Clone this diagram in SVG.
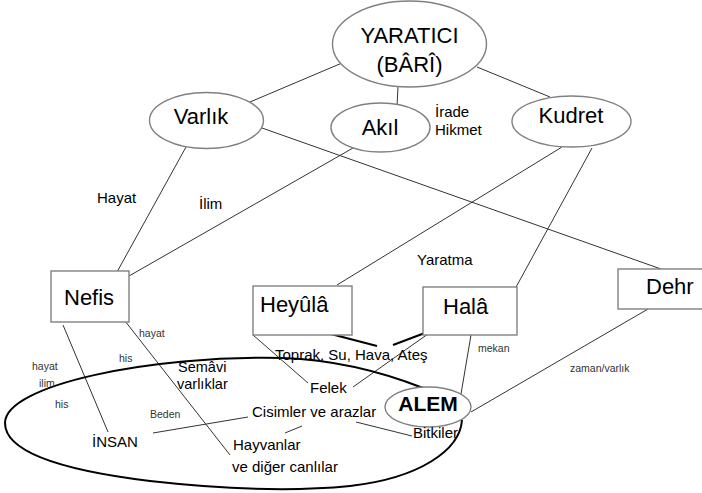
<svg xmlns="http://www.w3.org/2000/svg" width="702" height="493" viewBox="0 0 702 493">
<style>
.bg{fill:#fff}
.nb{fill:#fff;stroke:#808080;stroke-width:1.4}
.ln{fill:none;stroke:#333;stroke-width:1}
.tk{fill:none;stroke:#000;stroke-width:2}
.nt{font-family:"Liberation Sans",Arial,sans-serif;font-size:22px;fill:#000}
.lb{font-family:"Liberation Sans",Arial,sans-serif;font-size:15px;fill:#000}
.sm{font-family:"Liberation Sans",Arial,sans-serif;font-size:10.5px;fill:#333}
</style>
<rect class="bg" x="0" y="0" width="702" height="493"/>
<g id="connectors">
<line class="ln" x1="250" y1="102" x2="342" y2="63"/>
<line class="ln" x1="398" y1="87" x2="397" y2="106"/>
<line class="ln" x1="477" y1="67" x2="550" y2="97"/>
<line class="ln" x1="186" y1="147" x2="117" y2="272"/>
<line class="ln" x1="353" y1="148" x2="129" y2="276"/>
<line class="ln" x1="262" y1="128" x2="661" y2="269"/>
<line class="ln" x1="562" y1="147" x2="337" y2="285"/>
<line class="ln" x1="592" y1="148" x2="515" y2="289"/>
<line class="ln" x1="63" y1="325" x2="108" y2="432"/>
<line class="ln" x1="125" y1="321" x2="230" y2="455"/>
<line class="ln" x1="153" y1="433" x2="248" y2="417"/>
<line class="ln" x1="285" y1="433" x2="302" y2="426"/>
<line class="ln" x1="253" y1="335" x2="308" y2="383"/>
<line class="ln" x1="435" y1="329" x2="353" y2="387"/>
<line class="ln" x1="471" y1="335" x2="461" y2="394"/>
<line class="ln" x1="648" y1="309" x2="471" y2="412"/>
<line class="ln" x1="356" y1="422" x2="412" y2="436"/>
<line class="tk" x1="327" y1="333" x2="377" y2="346"/>
<line class="tk" x1="393" y1="345" x2="438" y2="328"/>
</g>
<g id="alem-world">
<path class="tk" d="M 423,388 C 390,375 340,360 283,358 C 150,355 5,385 5,423 C 5,452 60,470 150,481 C 230,490 300,491 350,486 C 420,478 460,450 462,420"/>
</g>
<g id="yaratici">
<ellipse class="nb" cx="409.5" cy="44" rx="77" ry="43"/>
<text class="nt" x="409.5" y="43" text-anchor="middle">YARATICI</text>
<text class="nt" x="409.5" y="72" text-anchor="middle">(BÂRÎ)</text>
</g>
<g id="varlik">
<ellipse class="nb" cx="206.5" cy="120.5" rx="57" ry="28"/>
<text class="nt" x="201" y="124" text-anchor="middle">Varlık</text>
</g>
<g id="akil">
<ellipse class="nb" cx="380.5" cy="127.5" rx="49.5" ry="24.5"/>
<text class="nt" x="380" y="135" text-anchor="middle">Akıl</text>
</g>
<g id="kudret">
<ellipse class="nb" cx="571.5" cy="121.5" rx="59.5" ry="25.5"/>
<text class="nt" x="571" y="123" text-anchor="middle">Kudret</text>
</g>
<g id="nefis">
<rect class="nb" x="51" y="271" width="78" height="51"/>
<text class="nt" x="64" y="305">Nefis</text>
</g>
<g id="heyula">
<rect class="nb" x="253" y="286" width="99" height="49"/>
<text class="nt" x="260" y="312">Heyûlâ</text>
</g>
<g id="hala">
<rect class="nb" x="423" y="287" width="94" height="48"/>
<text class="nt" x="443" y="314">Halâ</text>
</g>
<g id="dehr">
<rect class="nb" x="618" y="269" width="100" height="40"/>
<text class="nt" x="646" y="294">Dehr</text>
</g>
<g id="alem">
<ellipse class="nb" cx="428" cy="407" rx="43" ry="20"/>
<text class="nt" x="428" y="411" text-anchor="middle" style="font-weight:bold;font-size:21px">ALEM</text>
</g>
<g id="labels">
<text class="lb" x="435" y="117">İrade</text>
<text class="lb" x="435" y="135">Hikmet</text>
<text class="lb" x="97" y="203">Hayat</text>
<text class="lb" x="199" y="209">İlim</text>
<text class="lb" x="417" y="265">Yaratma</text>
<text class="sm" x="478" y="352">mekan</text>
<text class="sm" x="570" y="372">zaman/varlık</text>
<text class="sm" x="139" y="337">hayat</text>
<text class="sm" x="119" y="362">his</text>
<text class="sm" x="32" y="370">hayat</text>
<text class="sm" x="39" y="387">ilim</text>
<text class="sm" x="55" y="408">his</text>
<text class="sm" x="150" y="418">Beden</text>
<text class="lb" x="178" y="372" style="font-size:14.5px">Semâvi</text>
<text class="lb" x="177" y="389" style="font-size:14.5px">varlıklar</text>
<text class="lb" x="275" y="360">Toprak, Su, Hava, Ateş</text>
<text class="lb" x="310" y="393">Felek</text>
<text class="lb" x="252" y="417">Cisimler ve arazlar</text>
<text class="lb" x="413" y="438">Bitkiler</text>
<text class="lb" x="92" y="447">İNSAN</text>
<text class="lb" x="233" y="450">Hayvanlar</text>
<text class="lb" x="232" y="472">ve diğer canlılar</text>
</g>
</svg>
